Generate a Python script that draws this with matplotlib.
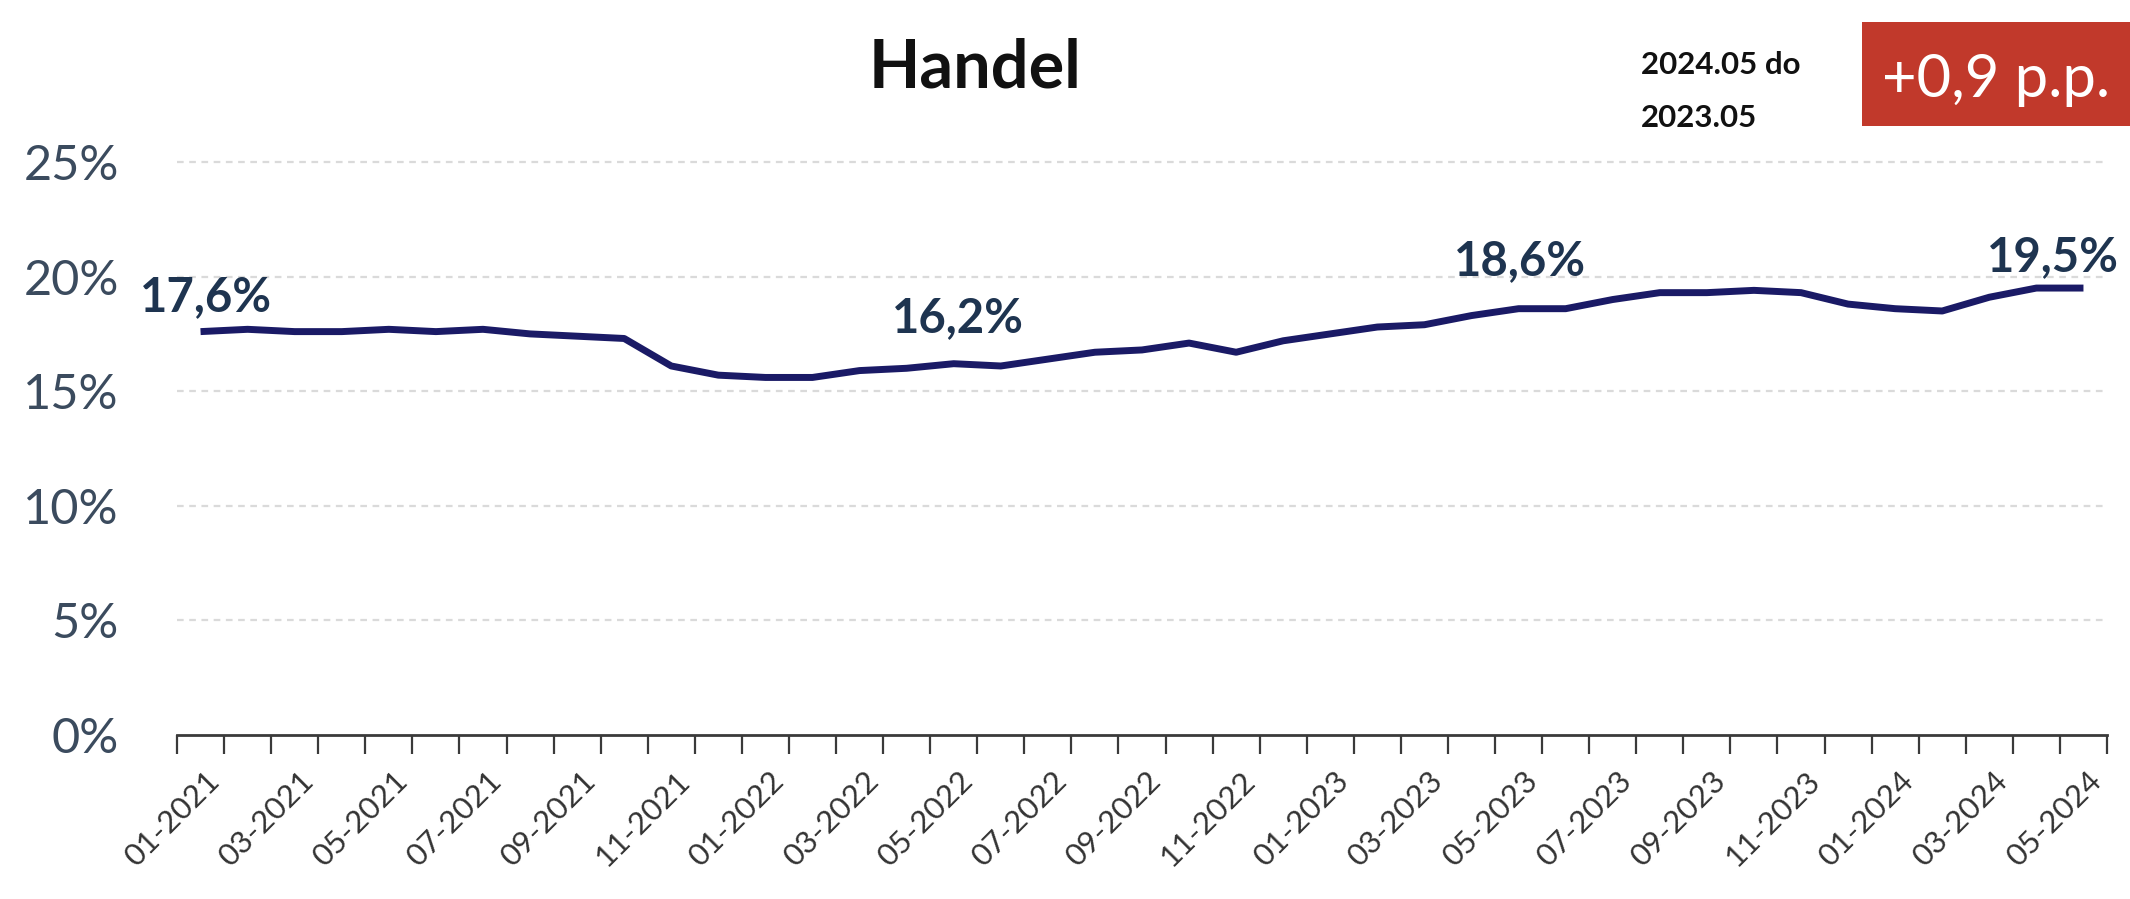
import matplotlib
matplotlib.use("Agg")
import matplotlib.pyplot as plt
from matplotlib.patches import Rectangle
from matplotlib.transforms import ScaledTranslation

plt.rcParams['font.family'] = ['Lato', 'DejaVu Sans']

# ---------------- data ----------------
months = [
    "01-2021", "02-2021", "03-2021", "04-2021", "05-2021", "06-2021",
    "07-2021", "08-2021", "09-2021", "10-2021", "11-2021", "12-2021",
    "01-2022", "02-2022", "03-2022", "04-2022", "05-2022", "06-2022",
    "07-2022", "08-2022", "09-2022", "10-2022", "11-2022", "12-2022",
    "01-2023", "02-2023", "03-2023", "04-2023", "05-2023", "06-2023",
    "07-2023", "08-2023", "09-2023", "10-2023", "11-2023", "12-2023",
    "01-2024", "02-2024", "03-2024", "04-2024", "05-2024",
]
share = [
    17.6, 17.7, 17.6, 17.6, 17.7, 17.6, 17.7, 17.5, 17.4, 17.3, 16.1, 15.7,
    15.6, 15.6, 15.9, 16.0, 16.2, 16.1, 16.4, 16.7, 16.8, 17.1, 16.7, 17.2,
    17.5, 17.8, 17.9, 18.3, 18.6, 18.6, 19.0, 19.3, 19.3, 19.4, 19.3, 18.8,
    18.6, 18.5, 19.1, 19.5, 19.5,
]
labelled_months = ["01-2021", "05-2022", "05-2023", "05-2024"]
y_ticks = [0, 5, 10, 15, 20, 25]
title = "Handel"
compare_lines = ["2024.05 do", "2023.05"]
delta_text = "+0,9 p.p."

# label offsets (points) – styling only
label_offsets = [(4, 25), (3, 33), (1, 34), (-22, 22)]

# ---------------- figure ----------------
W, H = 2130, 899
fig = plt.figure(figsize=(W / 100, H / 100), dpi=100)
fig.patch.set_facecolor("white")

left, right = 177 / W, 2107 / W
bottom, top = (H - 735) / H, (H - 162) / H
ax = fig.add_axes([left, bottom, right - left, top - bottom])

x = list(range(len(months)))
line_color = "#1A1A66"
ax.plot(x, share, color=line_color, lw=5.0, solid_joinstyle="round",
        solid_capstyle="butt", zorder=3)

ax.set_xlim(-0.5, len(months) - 0.5)
ax.set_ylim(0, 25)

# gridlines
for yv in y_ticks[1:]:
    ax.axhline(yv, color="#DADADA", lw=1.6, ls=(0, (3, 2.5)), zorder=1,
               clip_on=False)

for s in ["top", "right", "left"]:
    ax.spines[s].set_visible(False)
ax.spines["bottom"].set_color("#3A3A3A")
ax.spines["bottom"].set_linewidth(2.0)

# y ticks
ax.set_yticks(y_ticks)
ax.set_yticklabels([f"{v}%" for v in y_ticks], fontsize=35, color="#3B4B5E")
ax.tick_params(axis="y", length=0, pad=42)

# x ticks: minor ticks at boundaries, labels every 2nd month
ax.set_xticks([i - 0.5 for i in range(len(months) + 1)], minor=True)
ax.tick_params(axis="x", which="minor", length=14, width=1.6,
               color="#3A3A3A", direction="out")
lab_idx = x[::2]
ax.set_xticks(lab_idx)
ax.set_xticklabels([months[i] for i in lab_idx], rotation=45, ha="right",
                   va="center", rotation_mode="anchor", fontsize=22.5,
                   color="#333333")
ax.tick_params(axis="x", which="major", length=0, pad=30)
shift = ScaledTranslation(14 / 100, 0, fig.dpi_scale_trans)
for t in ax.get_xticklabels():
    t.set_transform(t.get_transform() + shift)

# data labels
label_color = "#1E3450"
for m, (dx, dy) in zip(labelled_months, label_offsets):
    i = months.index(m)
    v = share[i]
    ax.annotate(f"{v:.1f}%".replace(".", ","), (i, v), xytext=(dx, dy),
                textcoords="offset points", ha="center", va="center",
                fontsize=34, fontweight="bold", color=label_color, zorder=4)

# title
fig.text(975 / W, (H - 68) / H, title, ha="center", va="center",
         fontsize=48, fontweight="bold", color="#111111")

# comparison text (two lines)
for line, base_y in zip(compare_lines, [74, 127]):
    fig.text(1641 / W, (H - base_y) / H, line, ha="left", va="baseline",
             fontsize=22.5, fontweight="bold", color="#111111")

# red delta box
fig.patches.append(Rectangle((1862 / W, (H - 126) / H), (W - 1862) / W,
                             104 / H, transform=fig.transFigure,
                             facecolor="#C1392B", edgecolor="none"))
fig.text(1996 / W, (H - 97) / H, delta_text, ha="center", va="baseline",
         fontsize=43, color="white")

fig.savefig("out.png", dpi=100, facecolor="white")
